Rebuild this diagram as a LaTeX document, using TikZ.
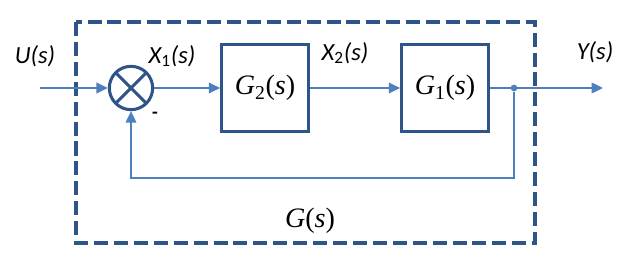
\documentclass[tikz,border=0pt]{standalone}
\usepackage{fontspec}
\setmainfont{Liberation Serif}
\newfontfamily\labelfont{Carlito}
\usetikzlibrary{arrows.meta,calc}
\usepackage{xcolor}
\definecolor{framecol}{RGB}{47,84,138}
\definecolor{linecol}{RGB}{78,128,190}

\begin{document}
\begin{tikzpicture}[x=0.03cm,y=-0.03cm,
  block/.style={draw=framecol,line width=2.6pt,minimum size=2.6cm,inner sep=0pt,font=\fontsize{24}{28}\selectfont},
  sumnode/.style={circle,draw=framecol,line width=2.6pt,minimum size=1.3cm,inner sep=0pt,
    path picture={\draw[framecol,line width=2.6pt] (path picture bounding box.north west) -- (path picture bounding box.south east)
      (path picture bounding box.south west) -- (path picture bounding box.north east);}},
  signal/.style={draw=linecol,line width=1.1pt,-{Triangle[length=3.4mm,width=3.2mm]}},
  sig/.style={font=\labelfont\itshape\fontsize{21}{24}\selectfont},
  dotnode/.style={circle,fill=linecol,minimum size=0.2cm,inner sep=0pt}]
\useasboundingbox (0,0) rectangle (636,264);

\draw[framecol,line width=2.6pt,dash pattern=on 12pt off 5pt] (76,22) rectangle (535,243);

\coordinate (in) at (40,88);
\coordinate (out) at (603,88);
\coordinate (fb) at (514,178);
\node[sumnode] (sum) at (131,88) {};
\node[block] (g2) at (265,88) {\textit{G}\textsubscript{2}(\textit{s})};
\node[block] (g1) at (445,88) {\textit{G}\textsubscript{1}(\textit{s})};
\node[dotnode] (dot) at (514,88) {};

\draw[signal] (in) -- (sum);
\draw[signal] (sum) -- (g2);
\draw[signal] (g2) -- (g1);
\draw[signal] (g1) -- (out);
\draw[signal,line width=0.9pt] (dot) -- (fb) -| (sum.south);

\node[sig] (u) at (35,56) {U(s)};
\node[sig] (x1) at (172,56) {X\textsubscript{\upshape 1}(s)};
\node[sig] (x2) at (345,53) {X\textsubscript{\upshape 2}(s)};
\node[sig] (y) at (595,52) {Y(s)};
\node[font=\labelfont\bfseries\fontsize{16}{18}\selectfont] (minus) at (155,115) {-};
\node[font=\fontsize{24}{28}\selectfont] (g) at (310,221) {\textit{G}(\textit{s})};
\end{tikzpicture}
\end{document}
